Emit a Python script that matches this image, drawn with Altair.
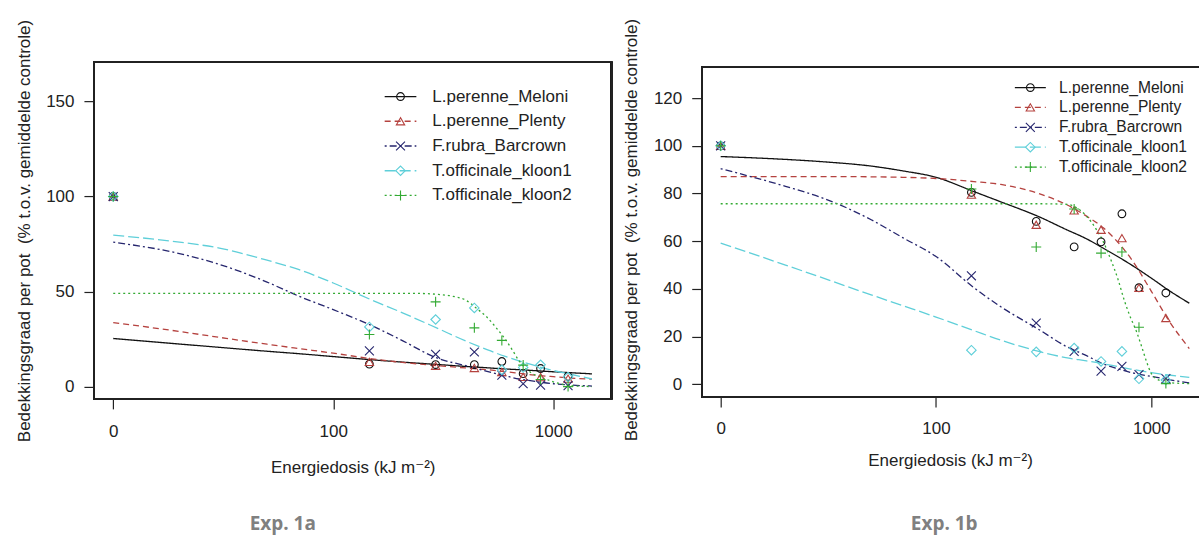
import altair as alt
import pandas as pd

FONT = "Liberation Sans, Arial, DejaVu Sans, sans-serif"
TXT = "#222222"

SERIES = ["L.perenne_Meloni", "L.perenne_Plenty", "F.rubra_Barcrown",
          "T.officinale_kloon1", "T.officinale_kloon2"]
DOSES = [0, 146, 292, 438, 584, 730, 876, 1168]

# ---- Exp. 1a observed means
a_meloni = [100, 11.8, 11.6, 11.6, 13.2, 6.8, 9.5, 5.4]
a_plenty = [100, 13.0, 10.9, 9.8, 7.7, 5.1, 5.0, 4.2]
a_barcrown = [100, 18.8, 17.0, 18.2, 6.0, 1.5, 0.8, 0.5]
a_kloon1 = [100, 31.4, 35.3, 41.4, 8.8, 10.0, 11.5, 5.0]
a_kloon2 = [100, 27.4, 44.6, 30.9, 24.3, 11.3, 3.7, 0.0]

# ---- Exp. 1b observed means
b_meloni = [100, 80.5, 68.3, 57.6, 59.7, 71.5, 40.5, 38.3]
b_plenty = [100, 79.5, 66.9, 72.9, 64.8, 61.3, 40.4, 27.8]
b_barcrown = [100, 45.5, 25.7, 13.8, 5.5, 7.5, 4.1, 2.4]
b_kloon1 = [100, 14.3, 13.6, 15.2, 9.6, 13.8, 2.3, 1.8]
b_kloon2 = [100, 81.9, 57.6, 73.5, 55.0, 55.5, 23.9, 0.3]

# ---- fitted curves
fit_dose = [10, 20, 30, 50, 70, 100, 150, 200, 300, 400, 500, 600, 700, 800, 1000, 1200, 1500]
a_meloni_fit = [25.3, 22.4, 20.7, 18.6, 17.3, 15.8, 14.1, 13.0, 11.6, 10.6, 9.9, 9.3, 8.9, 8.5, 7.8, 7.3, 6.7]
a_plenty_fit = [33.7, 29.0, 26.0, 22.3, 20.0, 17.6, 14.6, 12.9, 11.0, 9.8, 8.9, 7.9, 7.0, 6.2, 5.2, 4.5, 3.9]
a_barcrown_fit = [76.0, 70.0, 64.5, 55.0, 47.5, 40.5, 32.0, 25.0, 14.8, 11.0, 8.0, 5.8, 4.0, 3.0, 1.5, 0.8, 0.3]
a_kloon1_fit = [79.7, 76.0, 73.0, 66.5, 61.5, 54.5, 45.5, 39.5, 30.5, 24.0, 19.5, 16.0, 13.5, 11.5, 8.5, 6.5, 4.0]
a_kloon2_fit_dose = [10, 100, 200, 250, 300, 350, 400, 450, 500, 550, 600, 650, 700, 750, 800, 900, 1000, 1200, 1500]
a_kloon2_fit = [49.1, 49.1, 49.1, 49.0, 48.5, 47.5, 45.5, 41.0, 36.5, 31.0, 25.5, 19.5, 13.5, 9.5, 7.0, 4.5, 2.5, 0.5, 0.0]

b_meloni_fit = [95.5, 94.3, 93.3, 91.5, 89.5, 86.8, 80.8, 76.5, 70.3, 65.0, 61.0, 57.0, 53.5, 50.3, 44.5, 39.5, 34.0]
b_plenty_fit = [87.1, 87.1, 87.1, 87.0, 86.8, 86.3, 85.0, 83.8, 80.0, 75.5, 70.5, 65.5, 59.5, 53.0, 39.0, 27.0, 15.0]
b_barcrown_fit = [90.4, 83.0, 78.0, 69.0, 61.5, 53.6, 40.5, 32.5, 23.0, 16.0, 12.0, 8.5, 6.5, 5.0, 3.3, 2.0, 0.6]
b_kloon1_fit = [59.2, 50.0, 44.5, 37.5, 33.0, 28.2, 22.5, 18.5, 13.8, 11.2, 9.8, 8.6, 7.4, 6.4, 4.9, 3.9, 2.9]
b_kloon2_fit_dose = [10, 100, 300, 400, 450, 500, 550, 600, 650, 700, 750, 800, 850, 900, 950, 1000, 1100, 1200, 1500]
b_kloon2_fit = [75.7, 75.7, 75.7, 75.5, 74.0, 70.5, 65.5, 59.5, 52.0, 44.0, 35.0, 28.0, 22.5, 16.0, 9.5, 4.5, 1.5, 0.7, 0.3]

COLORS = ["#111111", "#b5423f", "#26266e", "#5fcfd9", "#33aa33"]
DASHES = [[1, 0], [6, 4], [2, 3, 7, 3], [11, 4], [2, 3]]
WIDTHS = [1.3, 1.3, 1.3, 2.0, 1.3]
SHAPES = ["circle", "triangle-up", "M-1,-1L1,1M-1,1L1,-1", "diamond", "M-1,0L1,0M0,-1L0,1"]
SIZES = [60, 100, 72, 100, 120]

Y_TITLE = "Bedekkingsgraad per pot \u00a0(% t.o.v. gemiddelde controle)"
X_TITLE = "Energiedosis (kJ m\u207b\u00b2)"


def obs_frame(cols):
    rows = []
    for name, vals in zip(SERIES, cols):
        for d, v in zip(DOSES, vals):
            rows.append({"series": name, "dose": 10 if d == 0 else d, "value": v})
    return pd.DataFrame(rows)


def fit_frame(cols):
    rows = []
    for name, (ds, vals) in zip(SERIES, cols):
        for d, v in zip(ds, vals):
            rows.append({"series": name, "dose": d, "value": v})
    return pd.DataFrame(rows)


color_enc = alt.Color("series:N", scale=alt.Scale(domain=SERIES, range=COLORS), legend=None)
dash_enc = alt.StrokeDash("series:N", scale=alt.Scale(domain=SERIES, range=DASHES), legend=None)
width_enc = alt.StrokeWidth("series:N", scale=alt.Scale(domain=SERIES, range=WIDTHS), legend=None)
shape_enc = alt.Shape("series:N", scale=alt.Scale(domain=SERIES, range=SHAPES), legend=None)
size_enc = alt.Size("series:N", scale=alt.Scale(domain=SERIES, range=SIZES), legend=None)


def panel(obs, fit, xdom, ydom, width, height, yticks, frame_top, full_box,
          leg_range, leg_x, leg_font, xlab_pad, xtitle_pad, ytitle_pad,
          exp_label, exp_xy):
    xs = alt.Scale(type="log", domain=xdom, nice=False)
    ys = alt.Scale(domain=ydom, nice=False, zero=False)
    xaxis = alt.Axis(values=[10, 100, 1000],
                     labelExpr="datum.value == 10 ? '0' : format(datum.value, 'd')",
                     title=X_TITLE, grid=False, domain=False,
                     tickSize=10, labelPadding=xlab_pad, titlePadding=xtitle_pad)
    yaxis = alt.Axis(values=yticks, title=Y_TITLE,
                     grid=False, domain=False, tickSize=10, labelPadding=10,
                     labelAngle=0, titlePadding=ytitle_pad)
    X = alt.X("dose:Q", scale=xs, axis=xaxis)
    Y = alt.Y("value:Q", scale=ys, axis=yaxis)

    def xd(v):
        return alt.X(datum=v, type="quantitative", scale=xs, axis=xaxis)

    def yd(v):
        return alt.Y(datum=v, type="quantitative", scale=ys, axis=yaxis)

    lines = alt.Chart(fit).mark_line(interpolate="monotone", clip=True).encode(
        x=X, y=Y, color=color_enc, strokeDash=dash_enc, strokeWidth=width_enc, detail="series:N")
    pts = alt.Chart(obs).mark_point(filled=False, strokeWidth=1.1, opacity=1).encode(
        x=X, y=Y, color=color_enc, shape=shape_enc, size=size_enc)

    frame_layers = []
    if full_box:
        frame_layers.append(alt.Chart(obs).mark_rect(fillOpacity=0, stroke=TXT, strokeWidth=1.2).encode(
            x=xd(xdom[0]), x2=alt.X2(datum=xdom[1]), y=yd(ydom[0]), y2=alt.Y2(datum=ydom[1])))
    else:
        frame_layers.append(alt.Chart(obs).mark_rule(color=TXT, strokeWidth=1.2).encode(
            x=xd(xdom[0]), x2=alt.X2(datum=xdom[1]), y=yd(frame_top)))
        frame_layers.append(alt.Chart(obs).mark_rule(color=TXT, strokeWidth=1.2).encode(
            x=xd(xdom[0]), x2=alt.X2(datum=xdom[1]), y=yd(ydom[0])))
        frame_layers.append(alt.Chart(obs).mark_rule(color=TXT, strokeWidth=1.2).encode(
            x=xd(xdom[0]), y=yd(ydom[0]), y2=alt.Y2(datum=frame_top)))

    data_layer = alt.layer(lines, pts, *frame_layers)

    leg_df = pd.DataFrame({"series": SERIES})
    LY = alt.Y("series:N", scale=alt.Scale(type="point", domain=SERIES, range=leg_range, padding=0), axis=None)
    leg_line = alt.Chart(leg_df).mark_rule().encode(
        x=alt.value(leg_x[0]), x2=alt.value(leg_x[1]), y=LY,
        color=color_enc, strokeDash=dash_enc, strokeWidth=width_enc)
    leg_pt = alt.Chart(leg_df).mark_point(filled=False, strokeWidth=1.1, opacity=1).encode(
        x=alt.value((leg_x[0] + leg_x[1]) / 2), y=LY, color=color_enc, shape=shape_enc, size=size_enc)
    leg_txt = alt.Chart(leg_df).mark_text(align="left", baseline="middle", font=FONT,
                                          fontSize=leg_font, color=TXT).encode(
        x=alt.value(leg_x[2]), y=LY, text="series:N")
    legend_layer = alt.layer(leg_line, leg_pt, leg_txt)

    exp = alt.Chart(pd.DataFrame({"t": [exp_label]})).mark_text(
        font="Open Sans", fontWeight="bold", fontSize=19, color="#808080",
        align="center", baseline="middle").encode(
        text="t:N", x=alt.value(exp_xy[0]), y=alt.value(exp_xy[1]))

    return alt.layer(data_layer, legend_layer, exp).resolve_scale(y="independent").properties(
        width=width, height=height)


left = panel(
    obs_frame([a_meloni, a_plenty, a_barcrown, a_kloon1, a_kloon2]),
    fit_frame([(fit_dose, a_meloni_fit), (fit_dose, a_plenty_fit), (fit_dose, a_barcrown_fit),
               (fit_dose, a_kloon1_fit), (a_kloon2_fit_dose, a_kloon2_fit)]),
    xdom=[8.17, 1840], ydom=[-6.47, 170.7], width=518, height=337,
    yticks=[0, 50, 100, 150], frame_top=170.7, full_box=True,
    leg_range=[34.4, 133.4], leg_x=[291, 322.7, 338.7], leg_font=17,
    xlab_pad=15, xtitle_pad=20, ytitle_pad=12, exp_label="Exp. 1a", exp_xy=[189, 462.7])

right = panel(
    obs_frame([b_meloni, b_plenty, b_barcrown, b_kloon1, b_kloon2]),
    fit_frame([(fit_dose, b_meloni_fit), (fit_dose, b_plenty_fit), (fit_dose, b_barcrown_fit),
               (fit_dose, b_kloon1_fit), (b_kloon2_fit_dose, b_kloon2_fit)]),
    xdom=[8.165, 1652], ydom=[-5.28, 135.07], width=497, height=335,
    yticks=[0, 20, 40, 60, 80, 100, 120], frame_top=133.2, full_box=False,
    leg_range=[25.4, 105], leg_x=[313.4, 344.4, 357.7], leg_font=15.6,
    xlab_pad=14, xtitle_pad=16, ytitle_pad=13, exp_label="Exp. 1b", exp_xy=[242.7, 462.7])

chart = alt.hconcat(left, right, spacing=90.3, bounds="flush").properties(
    padding={"left": 15, "top": 17, "right": 0, "bottom": 0},
    background="white"
).configure_view(stroke="transparent").configure_axis(
    labelFont=FONT, titleFont=FONT, labelFontSize=17, titleFontSize=17,
    labelColor=TXT, titleColor=TXT, tickColor=TXT, tickWidth=1.2,
    titleFontWeight="normal"
)

chart.save("out.html", embed_options={"renderer": "svg", "actions": False})
